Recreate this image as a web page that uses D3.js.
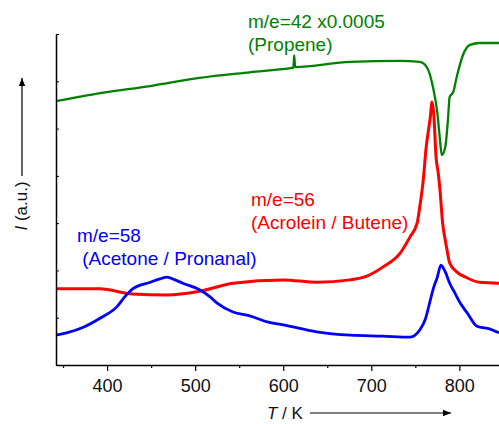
<!DOCTYPE html>
<html>
<head>
<meta charset="utf-8">
<script src="https://cdn.jsdelivr.net/npm/d3@7"></script>
<style>
  body { margin: 0; background: #fff; }
  text { font-family: Arial, "Liberation Sans", sans-serif; }
</style>
</head>
<body>
<div id="chart"></div>
<script>
// Temperature (K) and intensity (a.u.)
const tempGreen = [342, 392, 449, 505, 562, 608, 611.5, 612.5, 613.5, 676, 733, 755, 763, 770, 775, 778, 780, 784, 787, 789, 793, 797, 801, 804, 812, 823, 845];
const propene   = [5.58, 5.75, 5.90, 6.07, 6.19, 6.28, 6.29, 6.55, 6.30, 6.41, 6.43, 6.41, 6.30, 5.88, 5.33, 4.76, 4.44, 4.61, 5.18, 5.67, 5.77, 6.09, 6.38, 6.55, 6.77, 6.81, 6.81];

const tempRed  = [342, 392, 429, 468, 505, 543, 600, 638, 676, 695, 713, 733, 744, 752, 755, 759, 762, 767, 769, 771, 773.5, 776, 778, 781, 784, 786, 789, 797, 809, 823, 845];
const acrolein = [1.61, 1.61, 1.50, 1.48, 1.56, 1.73, 1.80, 1.75, 1.80, 1.88, 2.07, 2.37, 2.71, 3.00, 3.34, 3.91, 4.55, 5.24, 5.56, 5.29, 4.40, 4.06, 3.70, 3.00, 2.64, 2.43, 2.16, 1.97, 1.84, 1.75, 1.73];

const tempBlue = [342, 354, 373, 392, 411, 420, 429, 449, 460, 468, 477, 486, 505, 517, 525, 543, 562, 582, 600, 638, 676, 713, 744, 755, 761, 767, 770, 775, 779, 784, 789, 795, 801, 809, 820, 835, 845];
const acetone  = [0.63, 0.68, 0.80, 0.99, 1.23, 1.44, 1.61, 1.75, 1.82, 1.86, 1.80, 1.73, 1.59, 1.44, 1.31, 1.12, 1.04, 0.91, 0.85, 0.70, 0.63, 0.61, 0.59, 0.74, 0.95, 1.37, 1.59, 1.86, 2.11, 1.97, 1.73, 1.52, 1.31, 1.10, 0.82, 0.76, 0.68];

const xMajor = [400, 500, 600, 700, 800];
const xMinor = [350, 450, 550, 650, 750];
const yTicks = [0, 1, 2, 3, 4, 5, 6, 7];

const series = [
  { t: tempGreen, v: propene,  color: "#008000", width: 2.3,
    label: ["m/e=42 x0.0005", "(Propene)"], lx: 248, ly: 28 },
  { t: tempRed,   v: acrolein, color: "#ff0000", width: 3,
    label: ["m/e=56", "(Acrolein / Butene)"], lx: 251, ly: 206 },
  { t: tempBlue,  v: acetone,  color: "#0000ff", width: 2.8,
    label: ["m/e=58", " (Acetone / Pronanal)"], lx: 77, ly: 242 }
];

const width = 499, height = 424;
const margin = { top: 34, right: 0, bottom: 59, left: 56 };

const svg = d3.select("#chart").append("svg")
  .attr("width", width)
  .attr("height", height);

const x = d3.scaleLinear().domain([342, 845]).range([margin.left, width - margin.right]);
const y = d3.scaleLinear().domain([0, 7]).range([height - margin.bottom, margin.top]);

// arrow marker
svg.append("defs").append("marker")
  .attr("id", "arr")
  .attr("viewBox", "0 0 10 10")
  .attr("refX", 10).attr("refY", 5)
  .attr("markerWidth", 10).attr("markerHeight", 8)
  .attr("markerUnits", "userSpaceOnUse")
  .attr("orient", "auto")
  .append("path").attr("d", "M0,1 L10,5 L0,9 Z").attr("fill", "#000");

// traces
const line = d3.line().curve(d3.curveMonotoneX);
series.forEach(s => {
  svg.append("path")
    .datum(s.t.map((t, i) => [x(t), y(s.v[i])]))
    .attr("fill", "none")
    .attr("stroke", s.color)
    .attr("stroke-width", s.width)
    .attr("stroke-linejoin", "round")
    .attr("d", line);

  const txt = svg.append("text")
    .attr("x", s.lx).attr("y", s.ly)
    .attr("fill", s.color)
    .style("font-size", "19px")
    .style("white-space", "pre");
  s.label.forEach((l, i) => {
    txt.append("tspan")
      .attr("x", s.lx)
      .attr("dy", i === 0 ? 0 : 23)
      .text(l);
  });
});

// x axis
const xAxis = svg.append("g")
  .attr("transform", `translate(0,${y(0)})`)
  .call(d3.axisBottom(x).tickValues(xMajor).tickSize(6).tickPadding(8).tickSizeOuter(0));
xAxis.select(".domain").attr("stroke-width", 1.5);
xAxis.selectAll(".tick line").attr("stroke-width", 1.2);
xAxis.selectAll("text")
  .style("font-size", "18px")
  .style("font-family", "Arial, 'Liberation Sans', sans-serif")
  .attr("fill", "#111");

svg.append("g")
  .attr("transform", `translate(0,${y(0)})`)
  .call(d3.axisBottom(x).tickValues(xMinor).tickSize(3).tickFormat(""))
  .call(g => g.select(".domain").remove())
  .selectAll(".tick line").attr("stroke-width", 1.2);

// y axis (inward ticks, no labels)
const yAxis = svg.append("g")
  .attr("transform", `translate(${margin.left},0)`)
  .call(d3.axisRight(y).tickValues(yTicks).tickSize(3).tickFormat("").tickSizeOuter(0));
yAxis.select(".domain").attr("stroke-width", 1.5);

// axis titles with arrows
const yt = svg.append("text")
  .attr("transform", "translate(27,206) rotate(-90)")
  .attr("text-anchor", "middle")
  .style("font-size", "17px")
  .attr("fill", "#111");
yt.append("tspan").style("font-style", "italic").text("I");
yt.append("tspan").text(" (a.u.)");

svg.append("line")
  .attr("x1", 22).attr("y1", 176).attr("x2", 22).attr("y2", 78)
  .attr("stroke", "#000").attr("stroke-width", 1.2)
  .attr("marker-end", "url(#arr)");

const xt = svg.append("text")
  .attr("x", 267).attr("y", 419)
  .style("font-size", "17px")
  .attr("fill", "#111");
xt.append("tspan").style("font-style", "italic").text("T");
xt.append("tspan").text(" / K");

svg.append("line")
  .attr("x1", 310).attr("y1", 413).attr("x2", 451).attr("y2", 413)
  .attr("stroke", "#000").attr("stroke-width", 1.2)
  .attr("marker-end", "url(#arr)");
</script>
</body>
</html>
